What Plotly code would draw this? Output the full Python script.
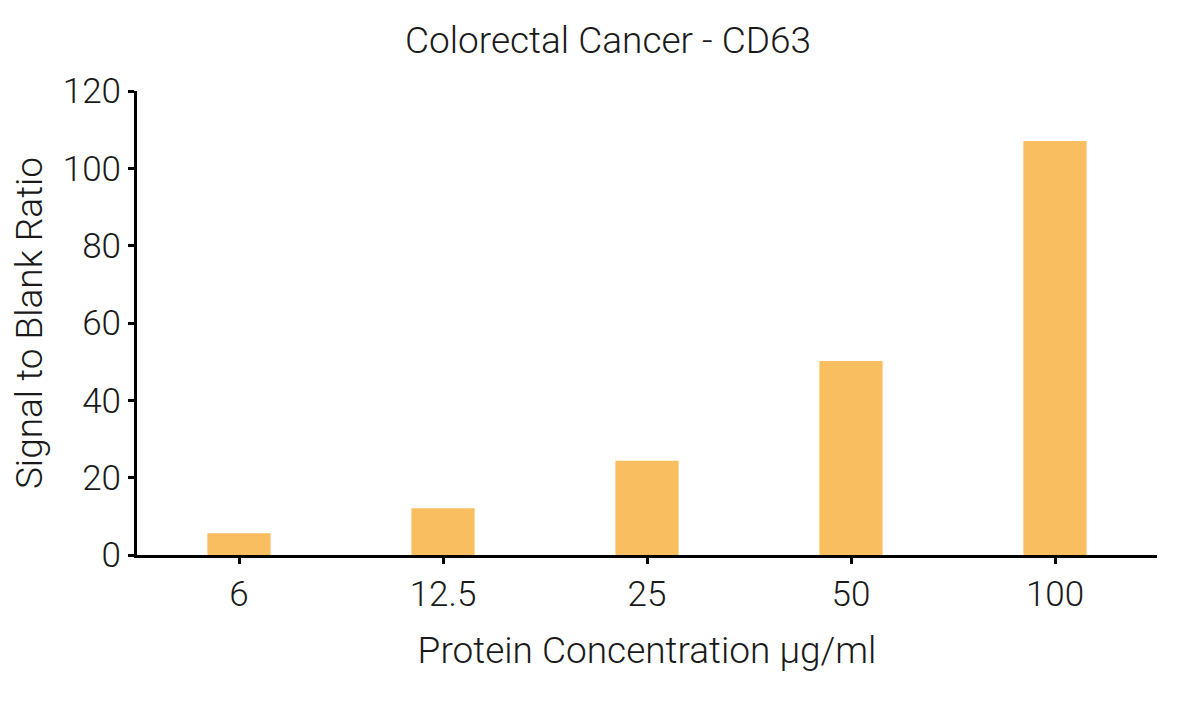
import plotly.graph_objects as go

# concentrações e razão sinal / branco
concentracoes = ["6", "12.5", "25", "50", "100"]
razao_sinal = [5.6, 12.1, 24.4, 50.2, 107.1]

y_ticks = [0, 20, 40, 60, 80, 100, 120]

cor_barra = "#F9BE5F"
fonte = dict(family="Roboto", size=37, color="#1a1a1a", weight=300)
fonte_ticks = dict(family="Roboto", size=35, color="#1a1a1a", weight=300)

fig = go.Figure()

fig.add_trace(go.Bar(
    x=concentracoes,
    y=razao_sinal,
    marker=dict(color=cor_barra, line=dict(width=0)),
    width=0.31,
    showlegend=False,
))

# a página tem margem de 8px no body, então as margens compensam isso
fig.update_layout(
    title=dict(text="Colorectal Cancer - CD63", x=0.5, xanchor="center", y=0.9545, yanchor="middle",
               font=fonte),
    width=1200,
    height=704,
    margin=dict(l=129, r=51, t=83, b=157),
    plot_bgcolor="white",
    paper_bgcolor="white",
    font=fonte,
    xaxis=dict(
        type="category",
        range=[-0.5, 4.5],
        automargin=False,
        showline=True, linecolor="black", linewidth=3,
        ticks="outside", ticklen=6, tickwidth=3, tickcolor="black",
        showgrid=False, zeroline=False,
        tickfont=fonte_ticks,
        title=dict(text="Protein Concentration µg/ml", font=fonte, standoff=24),
    ),
    yaxis=dict(
        range=[0, 120],
        automargin=False,
        tickvals=y_ticks,
        showline=True, linecolor="black", linewidth=3,
        ticks="outside", ticklen=6, tickwidth=3, tickcolor="black",
        showgrid=False, zeroline=False,
        tickfont=fonte_ticks,
        title=dict(text="Signal to Blank Ratio", font=fonte, standoff=12),
    ),
)

fig.write_html("out.html")
